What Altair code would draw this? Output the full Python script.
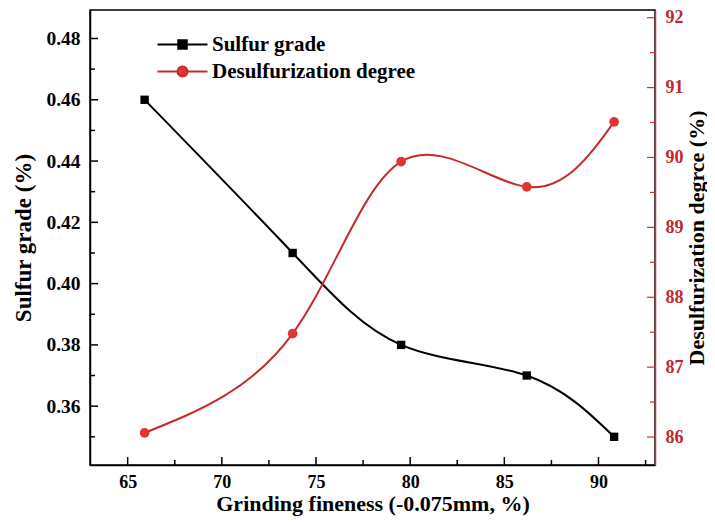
import altair as alt
import pandas as pd

# ---- data ----
fineness = [65.9, 73.76, 79.52, 86.19, 90.83]
sulfur_grade = [0.46, 0.41, 0.38, 0.37, 0.35]
desulf_degree = [86.06, 87.48, 89.94, 89.58, 90.51]

series_names = ["Sulfur grade", "Desulfurization degree"]

x_major = [65, 70, 75, 80, 85, 90]
x_minor = [67.5, 72.5, 77.5, 82.5, 87.5, 92.5]
yl_major = [0.36, 0.38, 0.40, 0.42, 0.44, 0.46, 0.48]
yl_minor = [0.35, 0.37, 0.39, 0.41, 0.43, 0.45, 0.47]
yr_major = [86, 87, 88, 89, 90, 91, 92]
yr_minor = [86.5, 87.5, 88.5, 89.5, 90.5, 91.5]

x_domain = [63, 93]
yl_domain = [0.3408, 0.4893]
yr_domain = [85.6, 92.11]

# ---- styling ----
W, H = 565, 455
FONT = "Liberation Serif"
BLACK = "#000000"
RED_LINE = "#c62a2a"
RED_FILL = "#e23434"
RED_AXIS = "#b83a3a"
RED_LABEL = "#c0282d"
MAJ, MIN = 8, 5

xscale = alt.Scale(domain=x_domain, nice=False, zero=False)
ylscale = alt.Scale(domain=yl_domain, nice=False, zero=False)
yrscale = alt.Scale(domain=yr_domain, nice=False, zero=False)

df_s = pd.DataFrame({"x": fineness, "y": sulfur_grade})
df_d = pd.DataFrame({"x": fineness, "y": desulf_degree})

x_axis = alt.Axis(values=x_major, format="d", title="Grinding fineness (-0.075mm, %)",
                  titlePadding=2, labelPadding=8)
yl_axis = alt.Axis(values=yl_major, format=".2f", title="Sulfur grade (%)",
                   titlePadding=10, labelPadding=10, labelFontSize=19.5)
yr_axis = alt.Axis(values=yr_major, format="d", title="Desulfurization degrce (%)",
                   orient="right", titleAngle=270, labelPadding=10, titleFontSize=22,
                   titleX=41, titleY=H / 2, titleBaseline="middle", titleAlign="center",
                   domainColor=RED_AXIS, labelColor=RED_LABEL, titleColor=BLACK)

X = alt.X("x:Q", scale=xscale, axis=x_axis)

# left series
s_line = alt.Chart(df_s).mark_line(interpolate="natural", color=BLACK, strokeWidth=2).encode(
    x=X, y=alt.Y("y:Q", scale=ylscale, axis=yl_axis),
)
s_pts = alt.Chart(df_s).mark_point(shape="square", filled=True, size=70, color=BLACK, opacity=1).encode(
    x=X, y=alt.Y("y:Q", scale=ylscale, axis=yl_axis),
)

def xticks(vals, length):
    return alt.Chart(pd.DataFrame({"x": vals})).mark_rule(color=BLACK, strokeWidth=1.5).encode(
        x=X, y=alt.value(H), y2=alt.value(H - length),
    )

def ylticks(vals, length):
    return alt.Chart(pd.DataFrame({"y": vals})).mark_rule(color=BLACK, strokeWidth=1.5).encode(
        y=alt.Y("y:Q", scale=ylscale, axis=yl_axis),
        x=alt.value(0), x2=alt.value(length),
    )

def yrticks(vals, length):
    return alt.Chart(pd.DataFrame({"y": vals})).mark_rule(color=RED_AXIS, strokeWidth=1.2).encode(
        y=alt.Y("y:Q", scale=yrscale, axis=yr_axis),
        x=alt.value(W), x2=alt.value(W - length),
    )

left = alt.layer(
    s_line, s_pts,
    xticks(x_major, MAJ), xticks(x_minor, MIN),
    ylticks(yl_major, MAJ), ylticks(yl_minor, MIN),
)

# right series
d_line = alt.Chart(df_d).mark_line(interpolate="natural", color=RED_LINE, strokeWidth=2).encode(
    x=X, y=alt.Y("y:Q", scale=yrscale, axis=yr_axis),
)
d_pts = alt.Chart(df_d).mark_point(shape="circle", filled=True, size=95, color=RED_FILL, opacity=1).encode(
    x=X, y=alt.Y("y:Q", scale=yrscale, axis=yr_axis),
)
right = alt.layer(d_line, d_pts, yrticks(yr_major, MAJ), yrticks(yr_minor, MIN))

# legend (line + marker symbols)
sq_path = "M-5,0H-0.85M0.85,0H5M-0.85,-0.85H0.85V0.85H-0.85Z"
ci_path = "M-5,0H-1.0M1.0,0H5M1.0,0A1.0,1.0,0,1,1,-1.0,0A1.0,1.0,0,1,1,1.0,0Z"
leg = alt.Legend(orient="none", legendX=82, legendY=24, title=None,
                 labelFont=FONT, labelFontSize=21, labelFontWeight="bold", labelColor=BLACK,
                 labelLimit=0,
                 symbolSize=100, symbolStrokeWidth=2, labelOffset=19, rowPadding=5)
df_leg = pd.DataFrame({"series": series_names})
legend_layer = alt.Chart(df_leg).mark_point(filled=True, size=100, strokeWidth=2, opacity=1).encode(
    fill=alt.Fill("series:N", scale=alt.Scale(domain=series_names, range=[BLACK, RED_FILL]), legend=leg),
    stroke=alt.Stroke("series:N", scale=alt.Scale(domain=series_names, range=[BLACK, RED_LINE]), legend=leg),
    shape=alt.Shape("series:N", scale=alt.Scale(domain=series_names, range=[sq_path, ci_path]), legend=leg),
).transform_filter("false")

chart = alt.layer(left, right, legend_layer).resolve_scale(y="independent").properties(
    width=W, height=H,
    autosize=alt.AutoSizeParams(type="none"),
    padding={"left": 82, "top": 2, "right": 52, "bottom": 56},
).configure_view(
    stroke=BLACK, strokeWidth=1.5
).configure_axis(
    labelFont=FONT, labelFontSize=18, labelFontWeight="bold", labelColor=BLACK,
    titleFont=FONT, titleFontSize=23, titleFontWeight="bold", titleColor=BLACK,
    ticks=False, grid=False, domainColor=BLACK, domainWidth=1.5,
).configure_axisX(titleFontSize=22)

chart.save("out.html", embed_options={"renderer": "svg", "actions": False})
